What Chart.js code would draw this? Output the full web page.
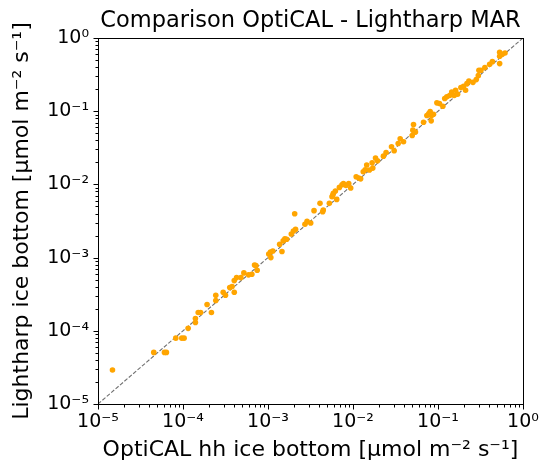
<!DOCTYPE html>
<html>
<head>
<meta charset="utf-8">
<script src="https://cdn.jsdelivr.net/npm/chart.js@4/dist/chart.umd.min.js"></script>
<style>
html,body{margin:0;padding:0;background:#fff;}
#wrap{width:540px;height:463px;position:relative;}
</style>
</head>
<body>
<div id="wrap"><canvas id="c" width="540" height="463"></canvas></div>
<script>
// OptiCAL hh ice bottom (x) values
const opticalX = [
1.48e-5, 4.53e-5, 6.05e-5, 6.38e-5, 8.22e-5, 9.68e-5, 1.03e-4, 1.15e-4, 1.40e-4, 1.40e-4,
1.51e-4, 1.61e-4, 1.92e-4, 2.16e-4, 2.43e-4, 2.43e-4, 2.97e-4, 3.16e-4, 3.55e-4, 3.78e-4,
4.01e-4, 4.01e-4, 4.27e-4, 4.80e-4, 5.20e-4, 5.90e-4, 6.46e-4, 6.95e-4, 7.21e-4, 7.46e-4,
1.02e-3, 1.07e-3, 1.14e-3, 1.08e-3, 1.37e-3, 1.46e-3, 1.51e-3, 1.58e-3, 1.66e-3, 1.88e-3,
1.99e-3, 2.11e-3, 2.06e-3, 2.72e-3, 2.88e-3, 3.18e-3, 3.48e-3, 4.09e-3, 4.40e-3, 4.47e-3,
5.27e-3, 5.66e-3, 5.87e-3, 6.21e-3, 5.77e-3, 6.43e-3, 6.92e-3, 7.43e-3, 7.71e-3, 8.28e-3,
8.91e-3, 9.40e-3, 1.09e-2, 1.17e-2, 1.23e-2, 1.32e-2, 1.39e-2, 1.45e-2, 1.56e-2, 1.71e-2,
1.68e-2, 1.84e-2, 1.94e-2, 2.28e-2, 2.45e-2, 2.84e-2, 3.05e-2, 3.40e-2, 3.59e-2, 3.93e-2,
4.97e-2, 5.06e-2, 5.15e-2, 5.43e-2, 6.76e-2, 7.40e-2, 7.80e-2, 8.09e-2, 8.39e-2, 8.32e-2,
8.85e-2, 9.70e-2, 0.104, 0.114, 0.120, 0.127, 0.137, 0.145, 0.155, 0.161,
0.170, 0.186, 0.200, 0.211, 0.219, 0.231, 0.258, 0.282, 0.298, 0.303,
0.320, 0.356, 0.405, 0.436, 0.531, 0.531, 0.531, 0.570, 0.614
];
// Lightharp ice bottom (y) values
const lightharpY = [
2.91e-5, 5.07e-5, 5.07e-5, 5.07e-5, 7.94e-5, 7.94e-5, 7.94e-5, 1.08e-4, 1.30e-4, 1.47e-4,
1.78e-4, 1.78e-4, 2.29e-4, 1.78e-4, 2.59e-4, 3.06e-4, 3.37e-4, 3.06e-4, 3.89e-4, 4.03e-4,
3.37e-4, 4.85e-4, 5.33e-4, 5.33e-4, 6.18e-4, 5.81e-4, 5.93e-4, 7.94e-4, 7.78e-4, 6.71e-4,
1.12e-3, 1.19e-3, 1.23e-3, 1.00e-3, 1.52e-3, 1.21e-3, 1.69e-3, 1.80e-3, 1.78e-3, 2.10e-3,
2.31e-3, 2.43e-3, 3.98e-3, 2.85e-3, 3.13e-3, 2.97e-3, 4.38e-3, 5.51e-3, 4.24e-3, 4.47e-3,
5.51e-3, 6.79e-3, 7.53e-3, 8.11e-3, 7.08e-3, 6.24e-3, 9.10e-3, 9.89e-3, 1.03e-2, 9.68e-3,
1.03e-2, 8.91e-3, 1.27e-2, 1.22e-2, 1.19e-2, 1.49e-2, 1.58e-2, 1.84e-2, 1.57e-2, 1.67e-2,
1.97e-2, 2.29e-2, 2.10e-2, 2.43e-2, 2.73e-2, 3.27e-2, 2.88e-2, 3.62e-2, 4.20e-2, 3.82e-2,
4.66e-2, 5.51e-2, 6.58e-2, 5.18e-2, 7.08e-2, 8.73e-2, 9.29e-2, 9.89e-2, 8.73e-2, 7.38e-2,
9.10e-2, 0.130, 0.127, 0.117, 0.149, 0.157, 0.164, 0.182, 0.164, 0.193,
0.171, 0.210, 0.219, 0.193, 0.238, 0.259, 0.248, 0.270, 0.306, 0.362,
0.362, 0.394, 0.438, 0.475, 0.638, 0.562, 0.447, 0.598, 0.624
];
// 1:1 reference line end points
const oneToOne = [1e-5, 1];
// tick labels of the decades
const decadeValues = [1e-5, 1e-4, 1e-3, 1e-2, 1e-1, 1];
const decadeLabels = ['10\u207B\u2075', '10\u207B\u2074', '10\u207B\u00B3', '10\u207B\u00B2', '10\u207B\u00B9', '10\u2070'];

const points = opticalX.map((x, i) => ({x: x, y: lightharpY[i]}));
const linePts = oneToOne.map(v => ({x: v, y: v}));

function labelFor(v) {
  const e = Math.round(Math.log10(v));
  if (Math.abs(Math.log10(v) - e) > 1e-6) return '';
  const idx = decadeValues.findIndex(d => Math.abs(Math.log10(d) - e) < 1e-6);
  return idx >= 0 ? decadeLabels[idx] : '';
}

const FONT = "'DejaVu Sans', sans-serif";

const frameAndTicks = {
  id: 'frameAndTicks',
  afterDraw(chart) {
    const ctx = chart.ctx;
    const a = chart.chartArea;
    ctx.save();
    ctx.strokeStyle = '#000';
    ctx.lineWidth = 1;
    ctx.strokeRect(Math.round(a.left) + 0.5, Math.round(a.top) + 0.5,
                   Math.round(a.right - a.left), Math.round(a.bottom - a.top));
    const xs = chart.scales.x, ys = chart.scales.y;
    ctx.beginPath();
    for (let e = -5; e <= 0; e++) {
      for (let m = 1; m <= 9; m++) {
        const v = m * Math.pow(10, e);
        if (v > 1.0000001) break;
        const len = (m === 1) ? 5 : 3;
        const px = Math.round(xs.getPixelForValue(v)) + 0.5;
        ctx.moveTo(px, Math.round(a.bottom) + 0.5);
        ctx.lineTo(px, Math.round(a.bottom) + 0.5 + len);
        const py = Math.round(ys.getPixelForValue(v)) + 0.5;
        ctx.moveTo(Math.round(a.left) + 0.5, py);
        ctx.lineTo(Math.round(a.left) + 0.5 - len, py);
      }
    }
    ctx.stroke();
    ctx.restore();
  }
};

new Chart(document.getElementById('c'), {
  type: 'scatter',
  data: {
    datasets: [
      {
        label: '1:1',
        type: 'line',
        data: linePts,
        borderColor: '#707070',
        borderWidth: 1.1,
        borderDash: [4, 1.8],
        pointRadius: 0,
        fill: false,
        order: 2
      },
      {
        label: 'MAR',
        data: points,
        backgroundColor: '#FFA500',
        borderColor: '#FFA500',
        borderWidth: 0,
        pointRadius: 2.8,
        order: 1
      }
    ]
  },
  plugins: [frameAndTicks],
  options: {
    responsive: false,
    animation: false,
    layout: {padding: {top: 0, right: 17, bottom: 0, left: 0}},
    plugins: {
      legend: {display: false},
      tooltip: {enabled: false},
      title: {
        display: true,
        fullSize: false,
        text: 'Comparison OptiCAL - Lightharp MAR',
        color: '#000',
        font: {family: FONT, size: 22.5, weight: 'normal'},
        padding: {top: 8, bottom: 3}
      }
    },
    scales: {
      x: {
        type: 'logarithmic',
        min: 1e-5,
        max: 1,
        afterFit(s) { s.height = 59; s.paddingLeft = 0; s.paddingRight = 0; },
        afterBuildTicks(s) { s.ticks = decadeValues.map(v => ({value: v})); },
        grid: {display: false, drawTicks: false},
        border: {display: false},
        ticks: {
          color: '#000',
          font: {family: FONT, size: 19},
          padding: 7,
          maxRotation: 0,
          autoSkip: false,
          callback: (v) => labelFor(v)
        },
        title: {
          display: true,
          text: 'OptiCAL hh ice bottom [\u03BCmol m\u207B\u00B2 s\u207B\u00B9]',
          color: '#000',
          font: {family: FONT, size: 22},
          padding: {top: 0, bottom: 0}
        }
      },
      y: {
        type: 'logarithmic',
        min: 1e-5,
        max: 1,
        afterFit(s) { s.width = 98; s.paddingTop = 0; s.paddingBottom = 0; },
        afterBuildTicks(s) { s.ticks = decadeValues.map(v => ({value: v})); },
        grid: {display: false, drawTicks: false},
        border: {display: false},
        ticks: {
          color: '#000',
          font: {family: FONT, size: 19},
          padding: 9,
          autoSkip: false,
          callback: (v) => labelFor(v)
        },
        title: {
          display: true,
          text: 'Lightharp ice bottom [\u03BCmol m\u207B\u00B2 s\u207B\u00B9]',
          color: '#000',
          font: {family: FONT, size: 22},
          padding: {top: 9, bottom: 0}
        }
      }
    }
  }
});
</script>
</body>
</html>
